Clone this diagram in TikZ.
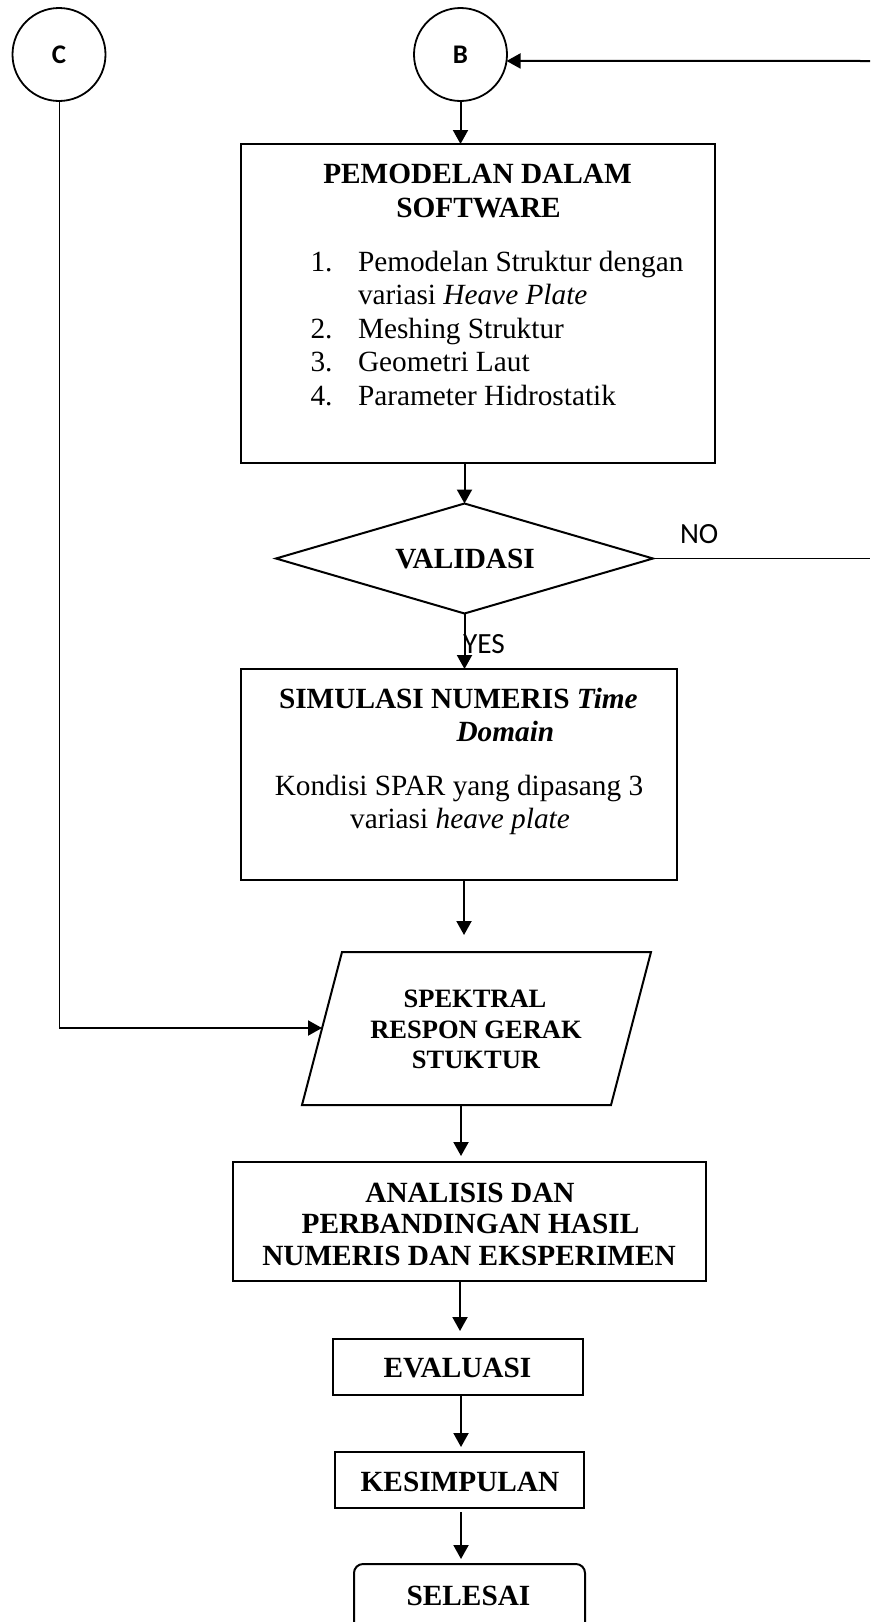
\documentclass[tikz,border=0pt]{standalone}
\usepackage{fontspec}
\setmainfont{Liberation Serif}
\newfontfamily\carlito{Carlito}
\usetikzlibrary{arrows.meta,shapes.geometric}
\begin{document}
\begin{tikzpicture}[x=1pt,y=-1pt,
  every node/.style={inner sep=0pt, outer sep=0pt},
  boxline/.style={draw, line width=2pt},
  conn/.style={line width=2pt, -{Triangle[length=14pt,width=15pt]}},
  thinline/.style={line width=1pt},
  circ/.style={draw, circle, line width=1.8pt, minimum size=93pt, font=\carlito\bfseries\fontsize{26.9}{30}\selectfont},
  lbl/.style={anchor=base west, font=\carlito\fontsize{29.3}{33.7}\selectfont},
  tx/.style={anchor=base, font=\fontsize{29.3}{33.7}\selectfont},
  txl/.style={anchor=base west, font=\fontsize{29.3}{33.7}\selectfont},
  tb/.style={anchor=base, font=\fontsize{29.3}{33.7}\selectfont\bfseries},
  tbl/.style={anchor=base west, font=\fontsize{29.3}{33.7}\selectfont\bfseries},
  tbs/.style={anchor=base, font=\fontsize{26.5}{30.5}\selectfont\bfseries}
]
\path[fill=white] (0,0) rectangle (870,1622);
\useasboundingbox (0,0) rectangle (870,1622);

% connectors' circles
\node[circ] (C) at (59,54.5) {C};
\node[circ] (B) at (460.5,54.5) {B};

% boxes
\node[boxline, rectangle, minimum width=474pt, minimum height=319pt] (box1) at (478,303.5) {};
\node[boxline, diamond, minimum width=377pt, minimum height=110pt, aspect=3.43] (dia) at (464.5,558.5) {};
\node[boxline, rectangle, minimum width=436pt, minimum height=211pt] (box2) at (459,774.5) {};
\coordinate (pTL) at (342,952);
\coordinate (pTR) at (651,952);
\coordinate (pBR) at (611,1105);
\coordinate (pBL) at (302,1105);
\coordinate (pL) at (322,1028);
\draw[boxline, line join=miter] (pTL) -- (pTR) -- (pBR) -- (pBL) -- cycle;
\node[boxline, rectangle, minimum width=473pt, minimum height=119pt] (box3) at (469.5,1221.5) {};
\node[boxline, rectangle, minimum width=250pt, minimum height=56pt] (eval) at (458,1367) {};
\node[boxline, rectangle, minimum width=249pt, minimum height=56pt] (kes) at (459.5,1480) {};
\node[boxline, rectangle, rounded corners=9pt, minimum width=231pt, minimum height=76pt] (sel) at (469.5,1602) {};

% texts
\node[tb] (t1a) at (477.5,183) {PEMODELAN DALAM};
\node[tb] (t1b) at (478.5,217) {SOFTWARE};
\node[txl] (n1) at (310.5,271) {1.};
\node[txl] (i1a) at (358,271) {Pemodelan Struktur dengan};
\node[txl] (i1b) at (358,304.5) {variasi \textit{Heave Plate}};
\node[txl] (n2) at (310.5,338) {2.};
\node[txl] (i2) at (358,338) {Meshing Struktur};
\node[txl] (n3) at (310.5,371.5) {3.};
\node[txl] (i3) at (358,371.5) {Geometri Laut};
\node[txl] (n4) at (310.5,405) {4.};
\node[txl] (i4) at (358,405) {Parameter Hidrostatik};

\node[tb] (tv) at (465,568) {VALIDASI};

\node[tbl] (t2a) at (279,708) {SIMULASI NUMERIS \textit{Time}};
\node[tbl] (t2b) at (456.5,741) {\textit{Domain}};
\node[tx] (t2c) at (459,795) {Kondisi SPAR yang dipasang 3};
\node[tx] (t2d) at (460,828) {variasi \textit{heave plate}};

\node[tbs] (tp1) at (475,1007) {SPEKTRAL};
\node[tbs] (tp2) at (476,1038) {RESPON GERAK};
\node[tbs] (tp3) at (476,1068) {STUKTUR};

\node[tb] (t3a) at (470,1202) {ANALISIS DAN};
\node[tb] (t3b) at (470.5,1233) {PERBANDINGAN HASIL};
\node[tb] (t3c) at (469,1265) {NUMERIS DAN EKSPERIMEN};

\node[tb] (te) at (457.5,1377) {EVALUASI};
\node[tb] (tk) at (460,1491) {KESIMPULAN};
\node[tb] (ts) at (468.5,1605) {SELESAI};

\node[lbl] (no) at (680,543) {NO};
\node[lbl] (yes) at (463,653) {YES};

% connectors
\coordinate (Bin) at (870,61);
\coordinate (noEnd) at (870,558.5);
\draw[conn] (Bin) -- (B.-8);
\draw[thinline] (dia.east) -- (noEnd);
\draw[conn] (B.south) -- (B.south |- box1.north);
\draw[conn] (dia.north |- box1.south) -- (dia.north);
\draw[conn] (dia.south) -- (dia.south |- box2.north);
\draw[conn, shorten >=17pt] ([xshift=5pt]box2.south) -- ([xshift=5pt]box2.south |- pTL);
\draw[conn, shorten >=6pt] ([xshift=-8.5pt]box3.north |- pBL) -- ([xshift=-8.5pt]box3.north);
\draw[conn, shorten >=8pt] ([xshift=2pt]eval.north |- box3.south) -- ([xshift=2pt]eval.north);
\draw[conn, shorten >=5pt] ([xshift=1.5pt]kes.north |- eval.south) -- ([xshift=1.5pt]kes.north);
\draw[conn, shorten <=4pt, shorten >=5pt] ([xshift=1.5pt]kes.south) -- ([xshift=1.5pt]kes.south |- sel.north);
\draw[thinline] (C.south) -- (C.south |- pL);
\draw[conn] (C.south |- pL) -- (pL);
\end{tikzpicture}
\end{document}
